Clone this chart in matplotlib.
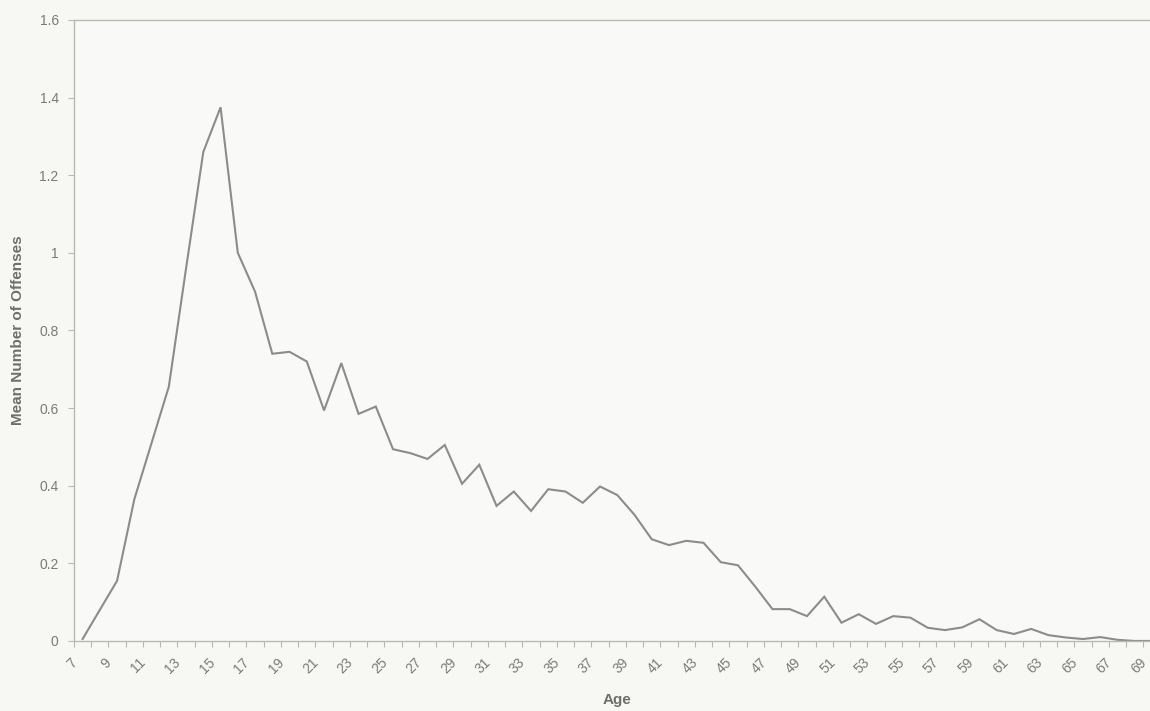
import numpy as np
import matplotlib as mpl
mpl.use('Agg')
import matplotlib.pyplot as plt
from matplotlib.transforms import ScaledTranslation


ages = list(range(7, 70))
mean_offenses = [0.005, 0.08, 0.155, 0.365, 0.51, 0.655, 0.96, 1.26, 1.375, 1.0,
                 0.9, 0.74, 0.745, 0.72, 0.594, 0.716, 0.585, 0.604, 0.494, 0.484,
                 0.469, 0.505, 0.405, 0.454, 0.348, 0.385, 0.335, 0.391, 0.385, 0.356,
                 0.398, 0.376, 0.325, 0.262, 0.247, 0.258, 0.253, 0.203, 0.195, 0.14,
                 0.082, 0.082, 0.064, 0.114, 0.047, 0.069, 0.044, 0.064, 0.06, 0.034,
                 0.028, 0.035, 0.056, 0.028, 0.018, 0.031, 0.015, 0.009, 0.005, 0.01,
                 0.003, 0.0, 0.0]
y_ticks = [0, 0.2, 0.4, 0.6, 0.8, 1, 1.2, 1.4, 1.6]
y_tick_labels = ['0', '0.2', '0.4', '0.6', '0.8', '1', '1.2', '1.4', '1.6']

BG = '#f7f7f4'
AXIS = '#b8b8b4'
TEXT = '#7a7a78'


def main():
    plt.rcParams['font.family'] = ['Liberation Sans', 'DejaVu Sans']
    fig = plt.figure(figsize=(11.5, 7.11), dpi=100, facecolor=BG)
    # plot area runs a bit past the right edge, as in the cropped scan
    ax = fig.add_axes([0.0643, 0.0985, 0.9449, 0.8734], facecolor='#f9f9f7')

    x = np.arange(len(ages))
    ax.plot(x, mean_offenses, color='#8c8c8a', lw=1.5, solid_joinstyle='miter')

    ax.set_xlim(-0.5, len(ages) - 0.5)
    ax.set_ylim(0, 1.6)

    ax.set_yticks(y_ticks)
    ax.set_yticklabels(y_tick_labels)
    ax.tick_params(axis='y', colors=AXIS, labelcolor=TEXT, labelsize=10,
                   length=4, width=0.8, pad=7)

    ax.set_xticks(x[::2])
    ax.set_xticklabels([str(a) for a in ages[::2]], rotation=45, ha='right',
                       va='center', rotation_mode='anchor')
    ax.set_xticks(np.arange(len(ages) + 1) - 0.5, minor=True)
    ax.tick_params(axis='x', which='major', length=0, pad=14,
                   labelcolor=TEXT, labelsize=10)
    ax.tick_params(axis='x', which='minor', length=4, width=0.8, colors=AXIS)
    shift = ScaledTranslation(-0.08, 0, fig.dpi_scale_trans)
    for lab in ax.get_xticklabels():
        lab.set_transform(lab.get_transform() + shift)

    for side in ['left', 'bottom', 'top']:
        ax.spines[side].set_color(AXIS)
        ax.spines[side].set_linewidth(1.0)
    ax.spines['right'].set_visible(False)

    ax.set_xlabel('Age', color='#6e6e6c', fontsize=11, fontweight='bold', labelpad=12)
    ax.set_ylabel('Mean Number of Offenses', color='#6e6e6c', fontsize=11,
                  fontweight='bold', labelpad=10)

    fig.savefig('out.png', dpi=100, facecolor=BG)


if __name__ == '__main__':
    main()
